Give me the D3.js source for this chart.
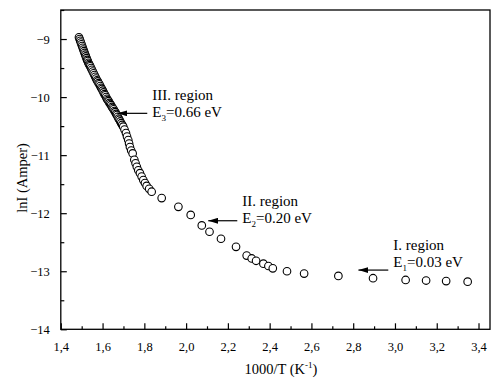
<!DOCTYPE html>
<html>
<head>
<meta charset="utf-8">
<script src="https://cdn.jsdelivr.net/npm/d3@7"></script>
<style>
  body { margin: 0; background: #fff; }
  svg { display: block; font-family: "Liberation Serif", "DejaVu Serif", serif; }
</style>
</head>
<body>
<svg id="chart" width="492" height="381"></svg>
<script>
// 1000/T values (K^-1)
const invT = [
  1.487, 1.490, 1.493, 1.496, 1.499, 1.502, 1.505, 1.508, 1.511, 1.514,
  1.517, 1.520, 1.523, 1.526, 1.529, 1.532, 1.535, 1.538, 1.541, 1.545,
  1.549, 1.553, 1.557, 1.561, 1.565, 1.569, 1.573, 1.577, 1.581, 1.585,
  1.589, 1.593, 1.597, 1.601, 1.605, 1.609, 1.613, 1.617, 1.621, 1.625,
  1.629, 1.633, 1.637, 1.641, 1.645, 1.649, 1.653, 1.657, 1.661, 1.665,
  1.669, 1.673, 1.677, 1.681, 1.685, 1.689, 1.694, 1.699, 1.705, 1.712,
  1.717, 1.723, 1.727, 1.731, 1.737, 1.744, 1.752, 1.758, 1.764, 1.771,
  1.779, 1.787, 1.795, 1.803, 1.811, 1.823, 1.835, 1.883, 1.963, 2.022,
  2.075, 2.112, 2.167, 2.239, 2.290, 2.314, 2.335, 2.370, 2.394, 2.415,
  2.483, 2.565, 2.729, 2.895, 3.051, 3.149, 3.245, 3.348
];
// lnI values
const lnI = [
  -8.97, -9.00, -9.03, -9.06, -9.09, -9.12, -9.15, -9.18, -9.21, -9.24,
  -9.27, -9.30, -9.33, -9.36, -9.38, -9.41, -9.43, -9.45, -9.47, -9.50,
  -9.53, -9.56, -9.59, -9.62, -9.65, -9.68, -9.71, -9.73, -9.76, -9.78,
  -9.81, -9.84, -9.86, -9.89, -9.92, -9.95, -9.97, -10.00, -10.03, -10.05,
  -10.07, -10.10, -10.12, -10.14, -10.17, -10.19, -10.21, -10.24, -10.26, -10.29,
  -10.31, -10.34, -10.37, -10.39, -10.42, -10.45, -10.48, -10.51, -10.56, -10.62,
  -10.68, -10.74, -10.80, -10.86, -10.92, -10.97, -11.08, -11.14, -11.20, -11.26,
  -11.31, -11.37, -11.43, -11.48, -11.53, -11.58, -11.63, -11.74, -11.89, -12.03,
  -12.21, -12.32, -12.44, -12.58, -12.73, -12.78, -12.82, -12.87, -12.91, -12.95,
  -13.00, -13.04, -13.08, -13.12, -13.15, -13.16, -13.17, -13.18
];

const xTicks = [1.4, 1.6, 1.8, 2.0, 2.2, 2.4, 2.6, 2.8, 3.0, 3.2, 3.4];
const xMinor = [1.5, 1.7, 1.9, 2.1, 2.3, 2.5, 2.7, 2.9, 3.1, 3.3];
const yTicks = [-14, -13, -12, -11, -10, -9];
const yMinor = [-13.5, -12.5, -11.5, -10.5, -9.5, -8.5];

// annotations
const regionNames = ["III. region", "II. region", "I. region"];
const regionSubs = ["3", "2", "1"];
const regionEnergy = ["=0.66 eV", "=0.20 eV", "=0.03 eV"];
const arrowTail = [[1.814, -10.28], [2.245, -12.13], [2.968, -12.98]];
const arrowTip = [[1.671, -10.28], [2.106, -12.13], [2.825, -12.98]];
const labelLine1 = [-10.05, -11.876, -12.64];
const labelLine2 = [-10.335, -12.174, -12.935];

const svg = d3.select("#chart");
const mLeft = 60.8, mRight = 490, mTop = 10, mBottom = 329.3;

const x = d3.scaleLinear().domain([1.4, 3.455]).range([mLeft, mRight]);
const y = d3.scaleLinear().domain([-14, -8.5]).range([mBottom, mTop]);

// frame
svg.append("rect")
    .attr("x", mLeft).attr("y", mTop)
    .attr("width", mRight - mLeft).attr("height", mBottom - mTop)
    .attr("fill", "none").attr("stroke", "#000").attr("stroke-width", 1.3);

// bottom axis (ticks inward)
const xAxis = svg.append("g")
    .attr("transform", `translate(0,${mBottom})`)
    .call(d3.axisBottom(x).tickValues(xTicks).tickSize(-6).tickPadding(13)
        .tickFormat(d => d3.format(".1f")(d).replace(".", ",")));
xAxis.select(".domain").remove();
xAxis.selectAll("line").attr("stroke-width", 1.2);
xAxis.selectAll("text").attr("font-size", 12.5).attr("font-family", "Liberation Serif").attr("fill", "#000");

svg.append("g")
    .attr("transform", `translate(0,${mBottom})`)
    .call(d3.axisBottom(x).tickValues(xMinor).tickSize(-3).tickFormat(""))
    .call(g => g.select(".domain").remove())
    .selectAll("line").attr("stroke-width", 1.2);

// left axis (ticks inward)
const yAxis = svg.append("g")
    .attr("transform", `translate(${mLeft},0)`)
    .call(d3.axisLeft(y).tickValues(yTicks).tickSize(-6).tickPadding(11)
        .tickFormat(d3.format("d")));
yAxis.select(".domain").remove();
yAxis.selectAll("line").attr("stroke-width", 1.2);
yAxis.selectAll("text").attr("font-size", 12.5).attr("font-family", "Liberation Serif").attr("fill", "#000");

svg.append("g")
    .attr("transform", `translate(${mLeft},0)`)
    .call(d3.axisLeft(y).tickValues(yMinor).tickSize(-3.5).tickFormat(""))
    .call(g => g.select(".domain").remove())
    .selectAll("line").attr("stroke-width", 1.2);

// data points: open circles
svg.append("g")
    .selectAll("circle")
    .data(invT.map((d, i) => [d, lnI[i]]))
    .enter().append("circle")
        .attr("cx", d => x(d[0]))
        .attr("cy", d => y(d[1]))
        .attr("r", 3.8)
        .attr("fill", "#fff")
        .attr("stroke", "#000")
        .attr("stroke-width", 1.1);

// arrow head
svg.append("defs").append("marker")
    .attr("id", "head")
    .attr("viewBox", "0 0 10 6")
    .attr("refX", 10).attr("refY", 3)
    .attr("markerWidth", 10).attr("markerHeight", 6)
    .attr("markerUnits", "userSpaceOnUse")
    .attr("orient", "auto")
    .append("path").attr("d", "M0,0L10,3L0,6Z").attr("fill", "#000");

regionNames.forEach((name, i) => {
    svg.append("line")
        .attr("x1", x(arrowTail[i][0])).attr("y1", y(arrowTail[i][1]))
        .attr("x2", x(arrowTip[i][0])).attr("y2", y(arrowTip[i][1]))
        .attr("stroke", "#000").attr("stroke-width", 1.2)
        .attr("marker-end", "url(#head)");

    const tx = x(arrowTail[i][0]) + 5;
    svg.append("text")
        .attr("x", tx).attr("y", y(labelLine1[i]))
        .attr("font-size", 15)
        .text(name);
    const t2 = svg.append("text")
        .attr("x", tx).attr("y", y(labelLine2[i]))
        .attr("font-size", 15);
    t2.append("tspan").text("E");
    t2.append("tspan").attr("font-size", 9).attr("dy", 4).text(regionSubs[i]);
    t2.append("tspan").attr("dy", -4).text(regionEnergy[i]);
});

// axis titles
const xt = svg.append("text")
    .attr("x", 281).attr("y", 374)
    .attr("text-anchor", "middle")
    .attr("font-size", 14.5);
xt.append("tspan").text("1000/T (K");
xt.append("tspan").attr("font-size", 9).attr("dy", -6).text("-1");
xt.append("tspan").attr("dy", 6).text(")");

svg.append("text")
    .attr("transform", "translate(26.5,178) rotate(-90)")
    .attr("text-anchor", "middle")
    .attr("font-size", 14.5)
    .text("lnI (Amper)");
</script>
</body>
</html>
